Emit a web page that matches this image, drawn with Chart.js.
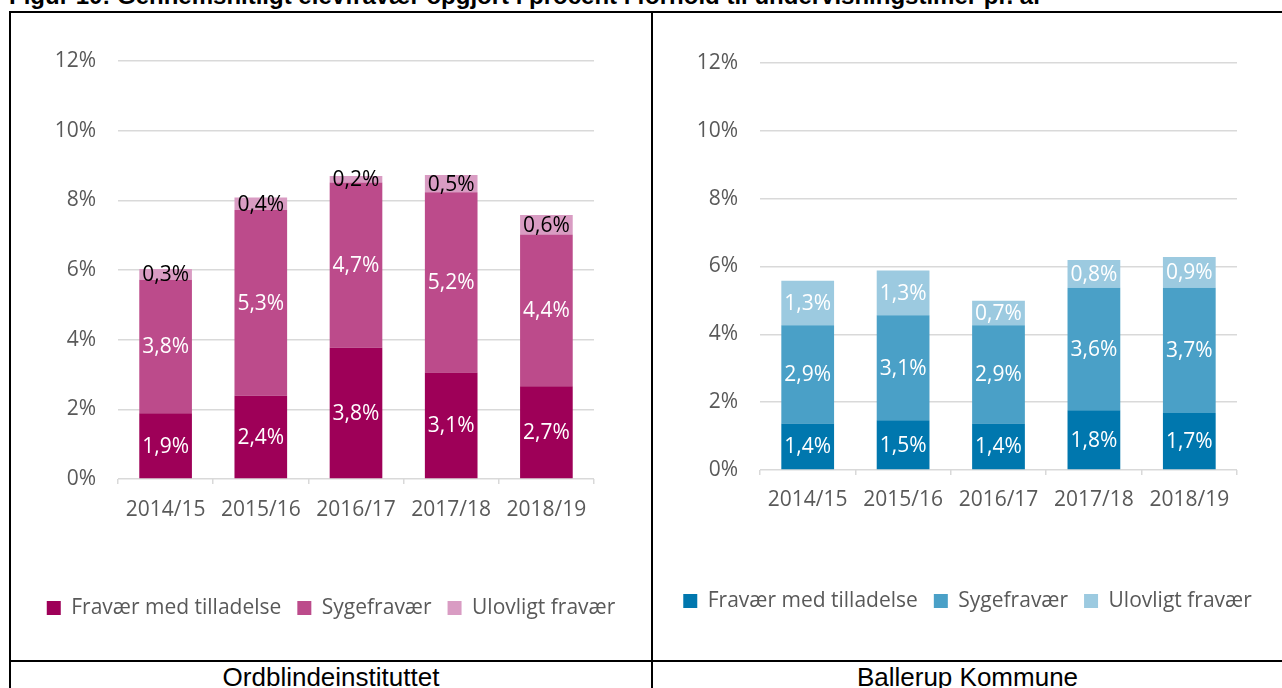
<!DOCTYPE html>
<html><head><meta charset="utf-8">
<script src="https://cdn.jsdelivr.net/npm/chart.js@4.4.1/dist/chart.umd.min.js"></script>
<style>
html,body{margin:0;padding:0;background:#fff;width:1282px;height:688px;overflow:hidden;position:relative;}
.ln{position:absolute;background:#000;}
#title{position:absolute;left:9px;top:-16px;font:bold 24px "Liberation Sans",Arial,sans-serif;line-height:24px;white-space:nowrap;color:#000;}
.cap{position:absolute;top:664px;font:26px "Liberation Sans",Arial,sans-serif;line-height:26px;text-align:center;white-space:nowrap;color:#000;}
canvas{position:absolute;}
</style></head>
<body>
<div id="title">Figur 10: Gennemsnitligt elevfravær opgjort i procent i forhold til undervisningstimer pr. år</div>
<canvas id="c1" width="640" height="647" style="left:11px;top:13px;width:640px;height:647px"></canvas>
<canvas id="c2" width="629" height="647" style="left:653px;top:13px;width:629px;height:647px"></canvas>
<div class="ln" style="left:9px;top:11px;width:1273px;height:2px"></div>
<div class="ln" style="left:9px;top:11px;width:2px;height:677px"></div>
<div class="ln" style="left:651px;top:11px;width:2px;height:677px"></div>
<div class="ln" style="left:9px;top:660px;width:1273px;height:2px"></div>
<div class="cap" style="left:11px;width:640px">Ordblindeinstituttet</div>
<div class="cap" style="left:653px;width:629px">Ballerup Kommune</div>
<script>
const categories = ['2014/15', '2015/16', '2016/17', '2017/18', '2018/19'];
const seriesNames = ['Fravær med tilladelse', 'Sygefravær', 'Ulovligt fravær'];
const yTickLabels = ['0%', '2%', '4%', '6%', '8%', '10%', '12%'];

// Ordblindeinstituttet
const ordTilladelse = [1.89, 2.39, 3.77, 3.06, 2.66];
const ordSyge       = [3.83, 5.33, 4.74, 5.17, 4.36];
const ordUlovligt   = [0.31, 0.36, 0.19, 0.50, 0.56];

// Ballerup Kommune
const balTilladelse = [1.37, 1.47, 1.37, 1.76, 1.68];
const balSyge       = [2.90, 3.09, 2.90, 3.61, 3.69];
const balUlovligt   = [1.31, 1.32, 0.72, 0.82, 0.91];

const FONT = '"Open Sans", "Noto Sans", sans-serif';
const FS = 21;
const GREY = '#595959';
const GRID = '#D9D9D9';

function fmt(v) { return v.toFixed(1).replace('.', ',') + '%'; }

const barLabels = {
  id: 'barLabels',
  afterDatasetsDraw(chart) {
    const ctx = chart.ctx;
    ctx.save();
    ctx.font = FS + 'px ' + FONT;
    ctx.textAlign = 'center';
    ctx.textBaseline = 'middle';
    chart.data.datasets.forEach((ds, i) => {
      const meta = chart.getDatasetMeta(i);
      meta.data.forEach((bar, j) => {
        const p = bar.getProps(['x', 'y', 'base'], true);
        ctx.fillStyle = ds.labelColor;
        ctx.fillText(fmt(ds.data[j]), p.x, (p.y + p.base) / 2 + 1);
      });
    });
    ctx.restore();
  }
};

function makeChart(id, series, colors, labelColors, L) {
  const datasets = series.map((d, i) => ({
    label: seriesNames[i],
    data: d,
    backgroundColor: colors[i],
    borderWidth: 0,
    labelColor: labelColors[i],
    barPercentage: 0.553,
    categoryPercentage: 1.0
  }));
  return new Chart(document.getElementById(id), {
    type: 'bar',
    data: { labels: categories, datasets },
    plugins: [barLabels],
    options: {
      responsive: false,
      animation: false,
      devicePixelRatio: 1,
      layout: { padding: { left: 0, right: 0, top: L.top, bottom: L.bottom } },
      plugins: {
        tooltip: { enabled: false },
        legend: {
          position: 'bottom',
          labels: {
            font: { family: FONT, size: FS },
            color: GREY,
            boxWidth: 14,
            boxHeight: 14,
            padding: 16
          }
        }
      },
      scales: {
        x: {
          stacked: true,
          border: { display: false },
          grid: { display: true, drawOnChartArea: false, drawTicks: true, tickLength: 5, color: GRID, lineWidth: 1.5 },
          ticks: { font: { family: FONT, size: FS }, color: GREY, padding: L.xpad, maxRotation: 0, autoSkip: false },
          afterFit: s => { s.height = L.xh; }
        },
        y: {
          stacked: true,
          min: 0, max: 12,
          border: { display: false },
          grid: { color: GRID, lineWidth: 1.5, drawTicks: false },
          ticks: {
            stepSize: 2,
            font: { family: FONT, size: FS },
            color: GREY,
            padding: 22,
            callback: (v, i) => yTickLabels[i]
          },
          afterFit: s => { s.width = 107; }
        },
        yR: {
          position: 'right',
          display: true,
          border: { display: false },
          grid: { display: false, drawTicks: false },
          ticks: { display: false },
          afterFit: s => { s.width = L.right; }
        }
      }
    }
  });
}

makeChart('c1', [ordTilladelse, ordSyge, ordUlovligt],
  ['#9E0058', '#BC4B8B', '#D99CC3'], ['#ffffff', '#ffffff', '#000000'],
  { right: 57, top: 48, bottom: 31.5, xh: 102.5, xpad: 13.4 });

makeChart('c2', [balTilladelse, balSyge, balUlovligt],
  ['#0077AE', '#4AA0C7', '#9CCAE0'], ['#ffffff', '#ffffff', '#ffffff'],
  { right: 45, top: 50, bottom: 38.5, xh: 104.5, xpad: 12.4 });
</script>
</body></html>
